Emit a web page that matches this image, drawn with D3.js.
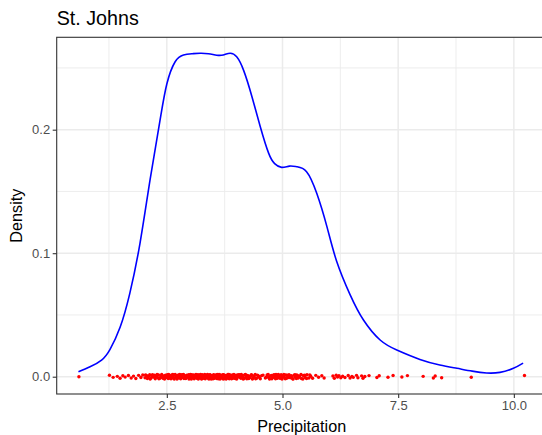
<!DOCTYPE html>
<html>
<head>
<meta charset="utf-8">
<script src="https://cdn.jsdelivr.net/npm/d3@7"></script>
<style>
  body { margin: 0; background: #fff; }
  svg { font-family: "Liberation Sans", Arial, sans-serif; display: block; }
</style>
</head>
<body>
<div id="vizualization-area"></div>
<script>
// density curve
var densityX = [0.59, 0.84, 1.09, 1.27, 1.49, 1.70, 1.92, 2.14, 2.35, 2.50, 2.68, 2.86, 3.05, 3.22, 3.40,
    3.58, 3.72, 3.87, 4.01, 4.16, 4.34, 4.52, 4.70, 4.83, 4.98, 5.15, 5.31, 5.52, 5.74, 5.96, 6.17,
    6.46, 6.75, 7.11, 7.47, 7.97, 8.40, 8.77, 9.10, 9.41, 9.70, 9.99, 10.20];
var densityY = [0.004, 0.008, 0.0135, 0.022, 0.040, 0.0675, 0.108, 0.160, 0.207, 0.237, 0.255, 0.2605, 0.2615, 0.2619, 0.2615,
    0.2603, 0.2605, 0.2619, 0.259, 0.248, 0.2267, 0.2024, 0.181, 0.1725, 0.1695, 0.1705, 0.170, 0.166, 0.1485, 0.1215, 0.0935,
    0.0665, 0.0459, 0.0297, 0.0216, 0.014, 0.0095, 0.0068, 0.0045, 0.003, 0.0035, 0.0068, 0.011];

// jittered observations [precipitation, jittered y]
var rugPoints = [
    [0.60, 0.0000], [1.26, 0.0012], [1.34, -0.0005], [1.43, 0.0003], [1.49, -0.0012], [1.55, 0.0008],
    [1.60, -0.0003], [1.67, 0.0010], [1.73, -0.0010], [1.78, 0.0005], [1.83, -0.0014], [1.89, 0.0011],
    [1.94, -0.0006], [1.98, 0.0014],
    [2.03, -0.0008], [2.06, 0.0010], [2.08, -0.0015], [2.11, 0.0004], [2.13, 0.0016], [2.16, -0.0011],
    [2.18, 0.0007], [2.21, -0.0002], [2.23, 0.0013], [2.25, -0.0017], [2.28, 0.0009], [2.30, -0.0006],
    [2.32, 0.0015], [2.35, -0.0013], [2.37, 0.0002], [2.39, 0.0018], [2.41, -0.0009], [2.43, 0.0006],
    [2.45, -0.0018], [2.47, 0.0012], [2.49, -0.0004], [2.51, 0.0017], [2.53, -0.0014], [2.55, 0.0003],
    [2.57, 0.0010], [2.59, -0.0016], [2.61, 0.0014], [2.62, -0.0007], [2.64, 0.0005], [2.66, -0.0019],
    [2.68, 0.0018], [2.70, -0.0003], [2.71, 0.0009], [2.73, -0.0012], [2.75, 0.0015], [2.77, -0.0008],
    [2.79, 0.0001], [2.80, -0.0017], [2.82, 0.0012], [2.84, -0.0005], [2.86, 0.0019], [2.88, -0.0011],
    [2.89, 0.0006], [2.91, -0.0015], [2.93, 0.0013], [2.95, -0.0002], [2.97, 0.0016], [2.98, -0.0018],
    [3.00, 0.0008], [3.02, -0.0009], [3.04, 0.0017], [3.06, -0.0004], [3.07, 0.0011], [3.09, -0.0016],
    [3.11, 0.0004], [3.13, 0.0019], [3.15, -0.0012], [3.16, 0.0007], [3.18, -0.0019], [3.20, 0.0014],
    [3.22, -0.0006], [3.24, 0.0010], [3.26, -0.0014], [3.27, 0.0017], [3.29, -0.0001], [3.31, 0.0005],
    [3.33, -0.0017], [3.35, 0.0013], [3.37, -0.0008], [3.38, 0.0018], [3.40, -0.0012], [3.42, 0.0002],
    [3.44, 0.0015], [3.46, -0.0019], [3.48, 0.0009], [3.49, -0.0005], [3.51, 0.0016], [3.53, -0.0013],
    [3.55, 0.0006], [3.57, -0.0003], [3.59, 0.0019], [3.61, -0.0016], [3.62, 0.0011], [3.64, -0.0009],
    [3.66, 0.0014], [3.68, -0.0002], [3.70, 0.0008], [3.72, -0.0018], [3.73, 0.0017], [3.75, -0.0007],
    [3.77, 0.0003], [3.79, -0.0014], [3.81, 0.0012], [3.83, -0.0004], [3.84, 0.0018], [3.86, -0.0011],
    [3.88, 0.0006], [3.90, -0.0017], [3.92, 0.0015], [3.94, -0.0001], [3.96, 0.0010], [3.98, -0.0015],
    [4.00, 0.0013], [4.02, -0.0008], [4.05, 0.0004], [4.07, 0.0017], [4.10, -0.0012], [4.12, 0.0008],
    [4.15, -0.0018], [4.18, 0.0014], [4.21, -0.0005], [4.24, 0.0011], [4.27, -0.0015], [4.30, 0.0002],
    [4.33, 0.0016], [4.36, -0.0010], [4.39, 0.0007], [4.42, -0.0017], [4.46, 0.0012], [4.50, -0.0004],
    [4.55, 0.0009], [4.63, -0.0011], [4.67, 0.0015], [4.70, -0.0007], [4.74, 0.0004], [4.77, -0.0016],
    [4.80, 0.0013], [4.83, -0.0002], [4.86, 0.0018], [4.89, -0.0013], [4.92, 0.0006], [4.94, -0.0008],
    [4.97, 0.0016], [4.99, -0.0018], [5.02, 0.0010], [5.04, -0.0005], [5.07, 0.0014], [5.09, -0.0012],
    [5.12, 0.0003], [5.14, 0.0017], [5.17, -0.0009], [5.19, 0.0008], [5.22, -0.0016], [5.25, 0.0012],
    [5.28, -0.0003], [5.31, 0.0015], [5.34, -0.0011], [5.37, 0.0005], [5.41, -0.0014], [5.45, 0.0010],
    [5.49, -0.0006], [5.53, 0.0016], [5.57, -0.0010], [5.61, 0.0004],
    [2.04, 0.0015], [2.09, 0.0002], [2.14, -0.0018], [2.19, 0.0016], [2.24, -0.0003], [2.29, 0.0019],
    [2.33, -0.0016], [2.38, 0.0008], [2.42, -0.0012], [2.46, 0.0003], [2.50, -0.0007], [2.54, 0.0019],
    [2.56, -0.0010], [2.60, 0.0007], [2.63, 0.0019], [2.65, -0.0013], [2.69, 0.0011], [2.72, -0.0019],
    [2.74, 0.0005], [2.78, 0.0019], [2.81, -0.0003], [2.83, 0.0016], [2.87, -0.0015], [2.90, 0.0001],
    [2.92, -0.0006], [2.96, 0.0009], [2.99, -0.0013], [3.01, 0.0018], [3.03, -0.0019], [3.05, 0.0004],
    [3.08, 0.0015], [3.10, -0.0008], [3.12, 0.0011], [3.14, -0.0004], [3.17, 0.0017], [3.19, -0.0010],
    [3.21, 0.0002], [3.23, 0.0018], [3.25, -0.0019], [3.28, 0.0007], [3.30, -0.0013], [3.32, 0.0019],
    [3.34, -0.0004], [3.36, 0.0001], [3.39, 0.0010], [3.41, -0.0019], [3.43, 0.0017], [3.45, -0.0008],
    [3.47, 0.0004], [3.50, -0.0017], [3.52, 0.0012], [3.54, -0.0001], [3.56, 0.0014], [3.58, -0.0014],
    [3.60, 0.0004], [3.63, 0.0018], [3.65, -0.0019], [3.67, 0.0006], [3.69, -0.0011], [3.71, 0.0016],
    [3.74, -0.0015], [3.76, 0.0010], [3.78, -0.0019], [3.80, 0.0005], [3.82, 0.0019], [3.85, -0.0016],
    [3.87, 0.0014], [3.89, -0.0005], [3.91, 0.0002], [3.93, -0.0012], [3.95, 0.0019], [3.97, -0.0009],
    [3.99, 0.0006], [4.01, -0.0019], [4.04, 0.0016], [4.08, -0.0005], [4.11, 0.0019], [4.14, -0.0001],
    [4.17, -0.0014], [4.20, 0.0018], [4.23, -0.0017], [4.26, 0.0006], [4.29, -0.0009], [4.32, 0.0012],
    [4.35, -0.0019], [4.38, 0.0001], [4.41, 0.0019], [4.44, -0.0013], [4.48, 0.0007], [4.52, -0.0016],
    [4.58, 0.0013], [4.65, -0.0002], [4.69, 0.0019], [4.72, -0.0019], [4.76, 0.0010], [4.79, -0.0006],
    [4.82, 0.0016], [4.85, -0.0017], [4.88, 0.0002], [4.91, 0.0019], [4.95, -0.0013], [4.98, 0.0007],
    [5.00, -0.0002], [5.03, 0.0019], [5.06, -0.0017], [5.10, 0.0012], [5.13, -0.0006], [5.16, 0.0007],
    [5.20, 0.0001], [5.23, -0.0019], [5.27, 0.0017], [5.30, -0.0014], [5.33, 0.0008], [5.36, -0.0002],
    [5.40, 0.0018], [5.44, -0.0019], [5.48, 0.0013], [5.52, -0.0015], [5.59, 0.0015],
    [5.65, -0.0013], [5.72, 0.0011], [5.78, -0.0004], [5.85, 0.0008], [5.90, -0.0010],
    [6.09, 0.0006], [6.12, -0.0012], [6.16, 0.0012], [6.19, -0.0003], [6.22, 0.0009], [6.26, -0.0009],
    [6.30, 0.0004], [6.35, -0.0006], [6.42, 0.0010], [6.46, -0.0011], [6.50, 0.0003], [6.53, -0.0005],
    [6.60, 0.0011], [6.63, -0.0008], [6.71, 0.0007], [6.74, -0.0012], [6.78, 0.0002], [6.87, 0.0009],
    [7.04, -0.0006], [7.09, 0.0008], [7.28, -0.0004], [7.39, 0.0010], [7.58, -0.0002], [7.70, 0.0009],
    [8.04, 0.0003], [8.26, -0.0010], [8.30, 0.0006], [8.44, -0.0008], [9.08, -0.0004], [10.23, 0.0010]
];

var xTicks = [2.5, 5.0, 7.5, 10.0],
    xMinor = [1.25, 3.75, 6.25, 8.75],
    yTicks = [0.0, 0.1, 0.2],
    yMinor = [0.05, 0.15, 0.25];

var chartTitle = "St. Johns",
    xTitle = "Precipitation",
    yTitle = "Density";

var width = 542,
    height = 435,
    panel = {left: 56.7, top: 37.3, right: 546.7, bottom: 394};

var xScale = d3.scaleLinear().domain([0.12, 10.71]).range([panel.left, panel.right]);
var yScale = d3.scaleLinear().domain([-0.0140, 0.2748]).range([panel.bottom, panel.top]);

var svg = d3.select('#vizualization-area')
    .append("svg")
        .attr("width", width)
        .attr("height", height);

// Grid
var grid = svg.append("g");
grid.selectAll(".xminor").data(xMinor).enter().append("line")
    .attr("x1", function (d) { return xScale(d); }).attr("x2", function (d) { return xScale(d); })
    .attr("y1", panel.top).attr("y2", panel.bottom)
    .attr("stroke", "#ebebeb").attr("stroke-width", 0.9);
grid.selectAll(".yminor").data(yMinor).enter().append("line")
    .attr("y1", function (d) { return yScale(d); }).attr("y2", function (d) { return yScale(d); })
    .attr("x1", panel.left).attr("x2", panel.right)
    .attr("stroke", "#ebebeb").attr("stroke-width", 0.9);
grid.selectAll(".xmajor").data(xTicks).enter().append("line")
    .attr("x1", function (d) { return xScale(d); }).attr("x2", function (d) { return xScale(d); })
    .attr("y1", panel.top).attr("y2", panel.bottom)
    .attr("stroke", "#ebebeb").attr("stroke-width", 1.5);
grid.selectAll(".ymajor").data(yTicks).enter().append("line")
    .attr("y1", function (d) { return yScale(d); }).attr("y2", function (d) { return yScale(d); })
    .attr("x1", panel.left).attr("x2", panel.right)
    .attr("stroke", "#ebebeb").attr("stroke-width", 1.5);

// Density line
var line = d3.line()
    .x(function (d, i) { return xScale(densityX[i]); })
    .y(function (d) { return yScale(d); })
    .curve(d3.curveNatural);

svg.append("path")
    .datum(densityY)
    .attr("d", line)
    .attr("fill", "none")
    .attr("stroke", "#0000ff")
    .attr("stroke-width", 1.6);

// Jittered points
svg.selectAll(".pt")
    .data(rugPoints)
    .enter()
    .append("circle")
        .attr("r", 1.7)
        .attr("fill", "#ff0000")
        .attr("cx", function (d) { return xScale(d[0]); })
        .attr("cy", function (d) { return yScale(d[1]); });

// Panel border
svg.append("rect")
    .attr("x", panel.left).attr("y", panel.top)
    .attr("width", panel.right - panel.left).attr("height", panel.bottom - panel.top)
    .attr("fill", "none").attr("stroke", "#333333").attr("stroke-width", 1.1);

// Axes
var xAxis = svg.append("g")
    .attr("transform", "translate(0," + panel.bottom + ")")
    .call(d3.axisBottom(xScale).tickValues(xTicks).tickFormat(d3.format(".1f")).tickSize(4).tickPadding(2.5));
var yAxis = svg.append("g")
    .attr("transform", "translate(" + panel.left + ",0)")
    .call(d3.axisLeft(yScale).tickValues(yTicks).tickFormat(d3.format(".1f")).tickSize(4).tickPadding(2.5));

[xAxis, yAxis].forEach(function (a) {
    a.select(".domain").remove();
    a.selectAll(".tick line").attr("stroke", "#333333").attr("stroke-width", 1.1);
    a.selectAll(".tick text")
        .attr("fill", "#4d4d4d")
        .style("font-size", "13px")
        .style("font-family", "Liberation Sans, Arial, sans-serif");
});

// Titles
svg.append("text")
    .attr("x", panel.left)
    .attr("y", 25.3)
    .attr("font-size", "19.7px")
    .attr("fill", "#000")
    .text(chartTitle);

svg.append("text")
    .attr("x", (panel.left + panel.right) / 2)
    .attr("y", 432.3)
    .attr("text-anchor", "middle")
    .attr("font-size", "16.2px")
    .attr("fill", "#000")
    .text(xTitle);

svg.append("text")
    .attr("transform", "translate(22," + ((panel.top + panel.bottom) / 2) + ") rotate(-90)")
    .attr("text-anchor", "middle")
    .attr("font-size", "16.2px")
    .attr("fill", "#000")
    .text(yTitle);
</script>
</body>
</html>
